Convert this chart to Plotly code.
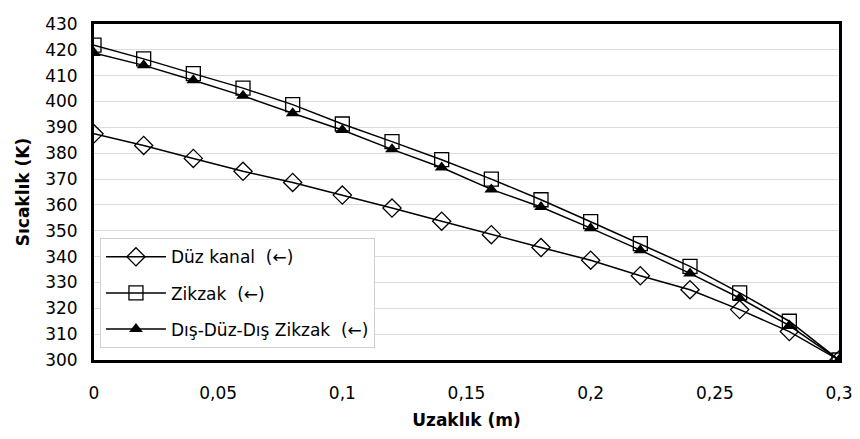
import plotly.graph_objects as go

x = [0, 0.02, 0.04, 0.06, 0.08, 0.1, 0.12, 0.14, 0.16, 0.18, 0.2, 0.22, 0.24, 0.26, 0.28, 0.3]
duz_kanal = [387.5, 383, 378, 373, 368.7, 363.8, 358.8, 353.7, 348.5, 343.5, 338.6, 332.6, 327.2, 319.5, 311, 300]
zikzak = [421.8, 416.5, 410.8, 405.2, 398.8, 391.3, 384.5, 377.5, 370, 362, 353.5, 345, 336.2, 326, 315, 300]
dis_duz_dis = [418.8, 414, 408.2, 402.2, 395.5, 389, 381.5, 374.5, 366, 359.2, 351, 342.5, 333.5, 324, 313.3, 300]

names = ["Düz kanal  (←)", "Zikzak  (←)", "Dış-Düz-Dış Zikzak  (←)"]

FONT = "DejaVu Sans, Arial"

fig = go.Figure()
fig.add_trace(go.Scatter(x=x, y=duz_kanal, name=names[0], legendgroup="a", mode="lines+markers",
                         line=dict(color="black", width=1.5),
                         marker=dict(symbol="diamond-open", size=14, color="black", line=dict(width=1.3))))
fig.add_trace(go.Scatter(x=x, y=zikzak, name=names[1], legendgroup="b", mode="lines+markers",
                         line=dict(color="black", width=1.5),
                         marker=dict(symbol="square-open", size=14, color="black", line=dict(width=1.3))))
fig.add_trace(go.Scatter(x=x, y=dis_duz_dis, name=names[2], legendgroup="c", mode="lines+markers",
                         line=dict(color="black", width=1.5),
                         marker=dict(symbol="triangle-up", size=12, color="black")))

fig.update_layout(
    width=852, height=431,
    margin=dict(l=86, r=21, t=6, b=79),
    paper_bgcolor="white", plot_bgcolor="white",
    separators=", ",
    font=dict(family=FONT, size=16, color="black"),
    showlegend=True,
    legend=dict(x=0.008, y=0.035, xanchor="left", yanchor="bottom",
                bgcolor="white", bordercolor="#d0d0d0", borderwidth=1,
                font=dict(family=FONT, size=17), tracegroupgap=11,
                itemwidth=60),
    xaxis=dict(range=[0, 0.3], tickvals=[0, 0.05, 0.1, 0.15, 0.2, 0.25, 0.3],
               showgrid=False, zeroline=False, showline=True, mirror=True,
               linecolor="black", linewidth=3, ticks="outside", ticklen=16,
               tickcolor="rgba(0,0,0,0)", tickfont=dict(size=17),
               title=dict(text="<b>Uzaklık (m)</b>", font=dict(size=17), standoff=12)),
    yaxis=dict(range=[300, 430], dtick=10, showgrid=True, gridcolor="#dcdcdc", gridwidth=1,
               zeroline=False, showline=True, mirror=True, linecolor="black", linewidth=3,
               ticks="outside", ticklen=10, tickcolor="rgba(0,0,0,0)", tickfont=dict(size=17),
               ticklabeloverflow="allow",
               title=dict(text="<b>Sıcaklık (K)</b>", font=dict(size=17), standoff=12)),
)
fig.write_html("out.html")
